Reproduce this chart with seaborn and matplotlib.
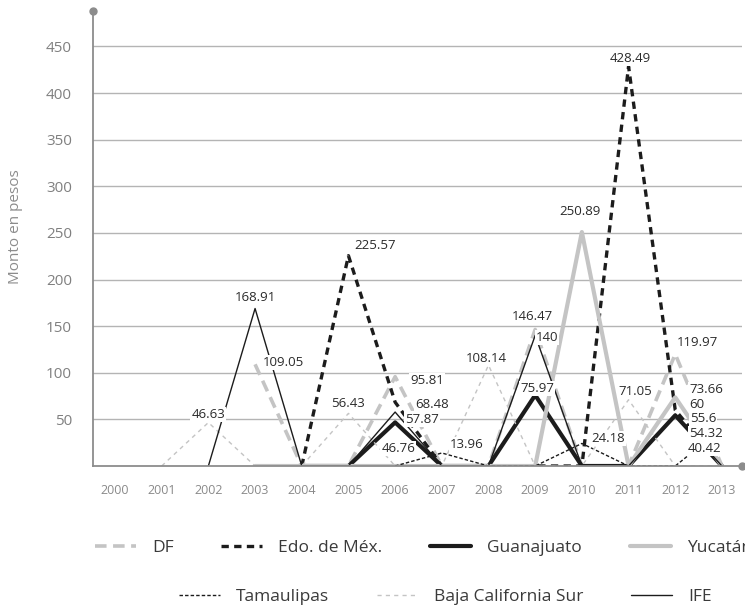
import numpy as np
import matplotlib
matplotlib.use('Agg')
import matplotlib.pyplot as plt
import seaborn as sns

# Values (NaN = series not started yet)
nan = np.nan
years = list(range(2000, 2014))
df_vals = [nan, nan, nan, 109.05, 0, 0, 95.81, 0, 0, 146.47, 0, 0, 119.97, 0]
edomex = [nan, nan, nan, nan, 0, 225.57, 68.48, 0, 0, 0, 0, 428.49, 60, 0]
guanajuato = [nan, nan, nan, nan, 0, 0, 46.76, 0, 0, 75.97, 0, 0, 54.32, 0]
yucatan = [nan, nan, nan, 0, 0, 0, 0, 0, 0, 0, 250.89, 0, 73.66, 0]
tamaulipas = [nan, nan, nan, nan, nan, nan, 0, 13.96, 0, 0, 24.18, 0, 0, 40.42]
bcs = [nan, 0, 46.63, 0, 0, 56.43, 0, 0, 108.14, 0, 0, 71.05, 0, 0]
ife = [nan, nan, 0, 168.91, 0, 0, 57.87, 0, 0, 140, 0, 0, 55.6, 0]

series = {
    'DF': df_vals,
    'Edo. de Méx.': edomex,
    'Guanajuato': guanajuato,
    'Yucatán': yucatan,
    'Tamaulipas': tamaulipas,
    'Baja California Sur': bcs,
    'IFE': ife,
}

# line styles
styles = {
    'DF': dict(color='#c4c4c4', linewidth=2.6, linestyle=(0, (3.2, 1.8))),
    'Edo. de Méx.': dict(color='#1c1c1c', linewidth=2.4, linestyle=(0, (2.2, 1.6))),
    'Guanajuato': dict(color='#1c1c1c', linewidth=3.0, linestyle='-'),
    'Yucatán': dict(color='#c4c4c4', linewidth=3.0, linestyle='-'),
    'Tamaulipas': dict(color='#1c1c1c', linewidth=1.0, linestyle=(0, (2.5, 1.5))),
    'Baja California Sur': dict(color='#c4c4c4', linewidth=1.0, linestyle=(0, (3, 3))),
    'IFE': dict(color='#1c1c1c', linewidth=1.0, linestyle='-'),
}

# which points get a value label, with offset in pixels (dx right, dy up)
label_spots = [
    ('Baja California Sur', 2002, 0, 8),
    ('IFE', 2003, 0, 11),
    ('DF', 2003, 28, 2),
    ('Edo. de Méx.', 2005, 27, 10),
    ('Baja California Sur', 2005, 0, 10),
    ('DF', 2006, 32, -4),
    ('Edo. de Méx.', 2006, 37, -2),
    ('IFE', 2006, 27, -7),
    ('Guanajuato', 2006, 3, -26),
    ('Tamaulipas', 2007, 25, 8),
    ('Baja California Sur', 2008, -2, 7),
    ('DF', 2009, -3, 13),
    ('IFE', 2009, 12, -2),
    ('Guanajuato', 2009, 2, 7),
    ('Yucatán', 2010, -2, 21),
    ('Tamaulipas', 2010, 26, 5),
    ('Edo. de Méx.', 2011, 2, 8),
    ('Baja California Sur', 2011, 7, 8),
    ('DF', 2012, 22, 12),
    ('Yucatán', 2012, 31, 8),
    ('Edo. de Méx.', 2012, 22, 6),
    ('IFE', 2012, 28, -4),
    ('Guanajuato', 2012, 31, -18),
    ('Tamaulipas', 2013, -17, -20),
]

sns.set_style('white')
plt.rcParams['font.family'] = ['Open Sans', 'DejaVu Sans']

axis_grey = '#8c8c8c'
fig = plt.figure(figsize=(7.45, 6.1), dpi=100)
ax = fig.add_axes([92.7 / 745, (610 - 466) / 610, (742 - 92.7) / 745, (466 - 11) / 610])

for name, vals in series.items():
    sns.lineplot(x=years, y=vals, ax=ax, label=name, **styles[name])

if ax.get_legend() is not None:
    ax.get_legend().remove()

xmin, xmax = 2000 - 0.478, 2013.43
ymin, ymax = 0, 488
ax.set_xlim(xmin, xmax)
ax.set_ylim(ymin, ymax)

ax.set_yticks(range(50, 451, 50))
ax.set_xticks(years)
ax.set_xticklabels([str(y) for y in years])
ax.yaxis.grid(True, color='#b4b4b4', linewidth=1.0)
ax.xaxis.grid(False)
ax.set_axisbelow(True)

for side in ['top', 'right']:
    ax.spines[side].set_visible(False)
for side in ['left', 'bottom']:
    ax.spines[side].set_color(axis_grey)
    ax.spines[side].set_linewidth(1.3)

ax.tick_params(axis='y', length=0, pad=15, labelsize=11, labelcolor='#808080')
ax.tick_params(axis='x', length=5, width=1, color=axis_grey, direction='out',
               pad=8, labelsize=9, labelcolor='#8a8a8a')

# dots at the axis ends
ax.plot([xmin], [ymax], 'o', color=axis_grey, markersize=5, clip_on=False, zorder=5)
ax.plot([xmax], [ymin], 'o', color=axis_grey, markersize=5, clip_on=False, zorder=5)

ax.set_xlabel('')
ax.set_ylabel('Monto en pesos', fontsize=11, color='#8c8c8c')
ax.yaxis.set_label_coords(-0.107, 0.525)

# value labels
for name, year, dx, dy in label_spots:
    v = series[name][years.index(year)]
    ax.annotate(f'{v:g}', xy=(year, v), xytext=(dx * 0.72, dy * 0.72),
                textcoords='offset points', ha='center', va='center',
                fontsize=9.5, color='#2a2a2a', zorder=10,
                bbox=dict(boxstyle='square,pad=0.08', fc='white', ec='none'))

handles, labels = ax.get_legend_handles_labels()
leg_kw = dict(frameon=False, fontsize=12.5, handlelength=2.36, handletextpad=0.92,
              columnspacing=2.76, borderpad=0, borderaxespad=0, labelcolor='#3a3a3a')
leg1 = fig.legend(handles[:4], labels[:4], loc='center left', ncol=4,
                  bbox_to_anchor=(95 / 745, 1 - 548 / 610), **leg_kw)
leg2 = fig.legend(handles[4:], labels[4:], loc='center left', ncol=3,
                  bbox_to_anchor=(179 / 745, 1 - 597 / 610), **leg_kw)

fig.savefig('out.png', dpi=100)
